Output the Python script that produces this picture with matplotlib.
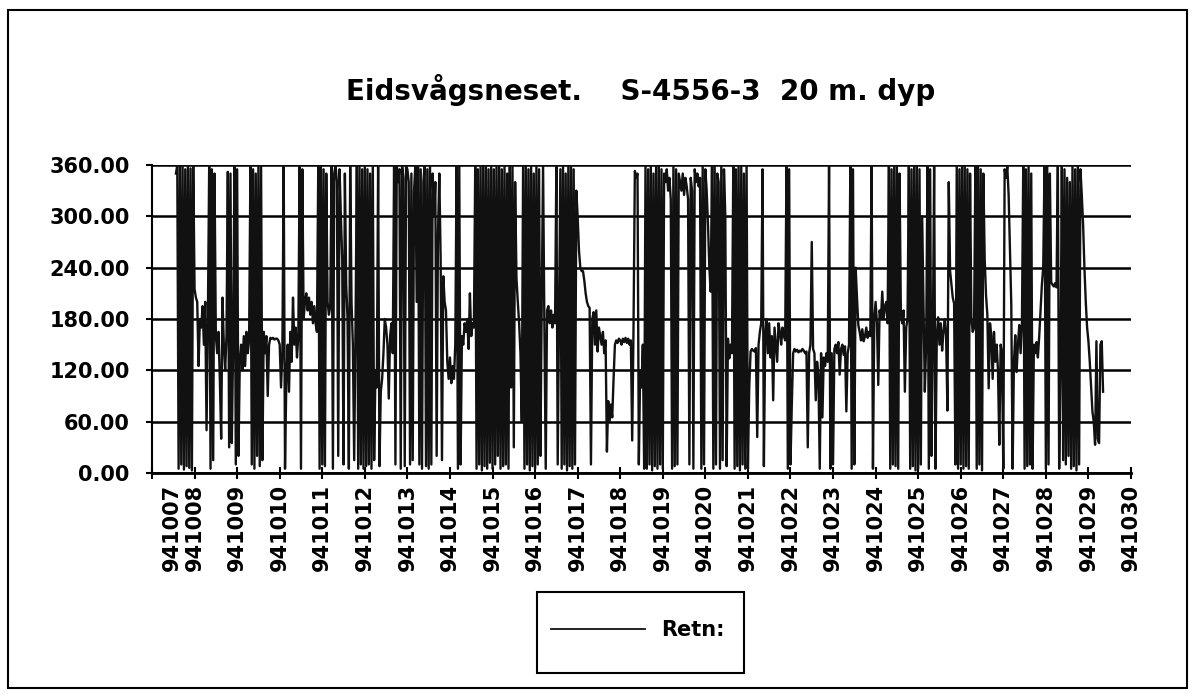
import numpy as np
import matplotlib
matplotlib.use("Agg")
import matplotlib.pyplot as plt
import matplotlib.transforms as mtransforms
from matplotlib.patches import Rectangle

_ = np.nan

title = "Eidsvågsneset.    S-4556-3  20 m. dyp"
series_name = "Retn:"
first_day = 941007
last_day = 941030
y_ticks = [0, 60, 120, 180, 240, 300, 360]

# Direction (degrees), samples spread evenly over each day
day07 = [_] * 18 + [350, 360, 5, 358, 10, 360, 4, 355, 8, 360, 6, 356, 3, 360]
day08 = [215, 205, 200, 125, 180, 170, 195, 150, 200, 50, 180, 360, 5, 355, 15, 350,
         160, 140, 165, 110, 40, 205, 150, 120, 160, 352, 30, 350, 35, 150, 360, 10]
day09 = [355, 20, 130, 150, 120, 160, 125, 165, 140, 155, 360, 10, 355, 5, 350, 20,
         358, 8, 360, 15, 165, 140, 160, 90, 150, 158, 157, 158, 156, 157, 157, 155]
day10 = [150, 100, 140, 360, 5, 110, 150, 95, 165, 130, 205, 150, 170, 135, 160, 360,
         5, 355, 180, 200, 210, 190, 205, 185, 200, 175, 195, 175, 165, 360, 5, 358]
day11 = [10, 355, 8, 350, 200, 185, 195, 360, 5, 350, 360, 340, 20, 355, 300, 250,
         10, 350, 220, 180, 5, 360, 200, 150, 15, 170, 360, 5, 358, 10, 355, 5]
day12 = [360, 8, 355, 10, 350, 5, 360, 15, 120, 100, 360, 8, 95, 110, 140, 180,
         170, 150, 87, 160, 175, 140, 360, 10, 360, 340, 355, 5, 360, 345, 8, 358]
day13 = [355, 340, 10, 350, 15, 330, 360, 200, 360, 10, 355, 5, 340, 360, 8, 355,
         5, 360, 10, 350, 300, 340, 20, 280, 350, 250, 15, 230, 200, 190, 130, 110]
day14 = [135, 105, 125, 110, 150, 360, 5, 358, 10, 160, 150, 175, 165, 180, 145, 210,
         160, 175, 170, 360, 5, 355, 10, 360, 3, 358, 8, 360, 5, 355, 12, 360]
day15 = [5, 355, 10, 360, 20, 360, 5, 355, 8, 360, 10, 350, 5, 358, 100, 360,
         30, 340, 228, 200, 175, 140, 60, 360, 5, 358, 10, 355, 3, 360, 8, 350]
day16 = [5, 360, 10, 355, 20, 200, 360, 170, 5, 190, 195, 175, 190, 170, 185, 175,
         360, 10, 180, 355, 5, 360, 10, 350, 3, 358, 8, 360, 5, 355, 10, 330]
day17 = [300, 260, 240, 236, 236, 225, 210, 200, 195, 193, 10, 180, 188, 150, 190, 142,
         170, 160, 150, 165, 140, 155, 25, 84, 60, 80, 65, 110, 150, 155, 152, 157]
day18 = [155, 150, 157, 153, 158, 152, 157, 150, 155, 38, 170, 353, 345, 350, 10, 120,
         100, 150, 5, 360, 5, 355, 10, 360, 3, 350, 8, 360, 5, 358, 10, 355]
day19 = [5, 350, 340, 355, 330, 345, 320, 5, 360, 8, 355, 10, 350, 340, 330, 350,
         325, 345, 335, 320, 10, 345, 330, 5, 355, 340, 350, 335, 345, 5, 360, 10]
day20 = [355, 330, 290, 240, 212, 360, 5, 358, 10, 350, 340, 5, 360, 15, 355, 300,
         8, 157, 134, 150, 140, 360, 5, 355, 8, 360, 3, 358, 10, 350, 5, 360]
day21 = [5, 100, 142, 145, 143, 142, 146, 42, 150, 165, 175, 355, 8, 160, 180, 140,
         175, 135, 160, 85, 170, 150, 130, 175, 165, 150, 170, 160, 155, 360, 5, 355]
day22 = [10, 80, 140, 145, 142, 144, 141, 143, 142, 145, 143, 140, 142, 30, 140, 150,
         270, 145, 140, 85, 130, 115, 5, 140, 65, 135, 125, 140, 130, 360, 5, 140]
day23 = [10, 145, 150, 140, 153, 115, 145, 150, 138, 148, 72, 140, 150, 360, 5, 355,
         10, 240, 205, 173, 165, 155, 168, 154, 160, 170, 158, 165, 160, 360, 5, 180]
day24 = [200, 175, 103, 190, 180, 212, 180, 195, 200, 175, 360, 5, 355, 10, 360, 8,
         358, 5, 350, 185, 175, 190, 95, 170, 180, 360, 5, 355, 8, 360, 3, 358]
day25 = [5, 355, 10, 300, 200, 95, 150, 360, 5, 355, 20, 150, 360, 5, 160, 182,
         150, 175, 143, 165, 180, 160, 73, 340, 236, 221, 205, 198, 10, 360, 5, 355]
day26 = [10, 360, 5, 358, 8, 355, 5, 350, 180, 165, 170, 360, 5, 358, 10, 355,
         3, 350, 250, 208, 185, 99, 175, 160, 110, 165, 130, 150, 120, 33, 150, 140]
day27 = [5, 355, 345, 358, 325, 260, 197, 5, 130, 161, 118, 150, 173, 140, 175, 360,
         5, 355, 8, 360, 10, 350, 5, 150, 140, 153, 135, 160, 190, 220, 240, 360]
day28 = [5, 360, 10, 350, 223, 220, 218, 222, 217, 360, 5, 118, 360, 15, 355, 10,
         345, 20, 340, 5, 360, 8, 355, 3, 358, 10, 355, 325, 290, 239, 200, 170]
day29 = [154, 130, 100, 72, 60, 33, 154, 40, 35, 150, 154, 95] + [_] * 20

days = [day07, day08, day09, day10, day11, day12, day13, day14, day15, day16, day17,
        day18, day19, day20, day21, day22, day23, day24, day25, day26, day27, day28, day29]

t, v = [], []
for k, vals in enumerate(days):
    n = len(vals)
    for i, val in enumerate(vals):
        t.append(first_day + k + i / n)
        v.append(val)
t = np.array(t)
v = np.array(v, dtype=float)

W, H = 1194, 696
fig = plt.figure(figsize=(W / 100, H / 100), dpi=100)
fig.patch.set_facecolor("white")

# outer frame
fig.add_artist(Rectangle((8 / W, 1 - 688 / H), 1179 / W, 678 / H, transform=fig.transFigure,
                         fill=False, edgecolor="black", linewidth=1.5))

ax = fig.add_axes([152 / W, 1 - 473 / H, 979 / W, 308 / H])
ax.plot(t, v, color="#111111", linewidth=1.7, label=series_name, zorder=3)

ax.set_xlim(first_day, last_day)
ax.set_ylim(0, 360)
ax.set_yticks(y_ticks)
ax.set_yticklabels([f"{y:.2f}" for y in y_ticks], fontsize=15, fontweight="bold")
xt = list(range(first_day, last_day + 1))
ax.set_xticks(xt)
ax.set_xticklabels([str(x) for x in xt], rotation=90, fontsize=15, fontweight="bold")
ax.tick_params(axis="x", direction="inout", length=9, width=1.5, pad=3)
ax.tick_params(axis="y", direction="out", length=4, width=1.5, pad=12)
# first date label sits a little right of its tick in the original
first_lbl = ax.get_xticklabels()[0]
first_lbl.set_transform(first_lbl.get_transform() +
                        mtransforms.ScaledTranslation(20 / 100, 0, fig.dpi_scale_trans))
ax.yaxis.grid(True, color="black", linewidth=1.8)
ax.set_axisbelow(True)
for s in ["top", "right"]:
    ax.spines[s].set_visible(False)
ax.spines["left"].set_linewidth(1.5)
ax.spines["bottom"].set_linewidth(2)

fig.text(641 / W, 1 - 90 / H, title, ha="center", va="center", fontsize=20, fontweight="bold")

# legend box
fig.add_artist(Rectangle((537 / W, 1 - 673 / H), 207 / W, 81 / H, transform=fig.transFigure,
                         fill=False, edgecolor="black", linewidth=1.5))
leg = fig.legend(loc="center", bbox_to_anchor=(638 / W, 1 - 630 / H),
                 prop={"weight": "bold", "size": 15}, handlelength=4.5, borderpad=0.5,
                 handletextpad=0.8, frameon=False)
for line in leg.get_lines():
    line.set_linewidth(1.3)

fig.savefig("out.png", dpi=100)
